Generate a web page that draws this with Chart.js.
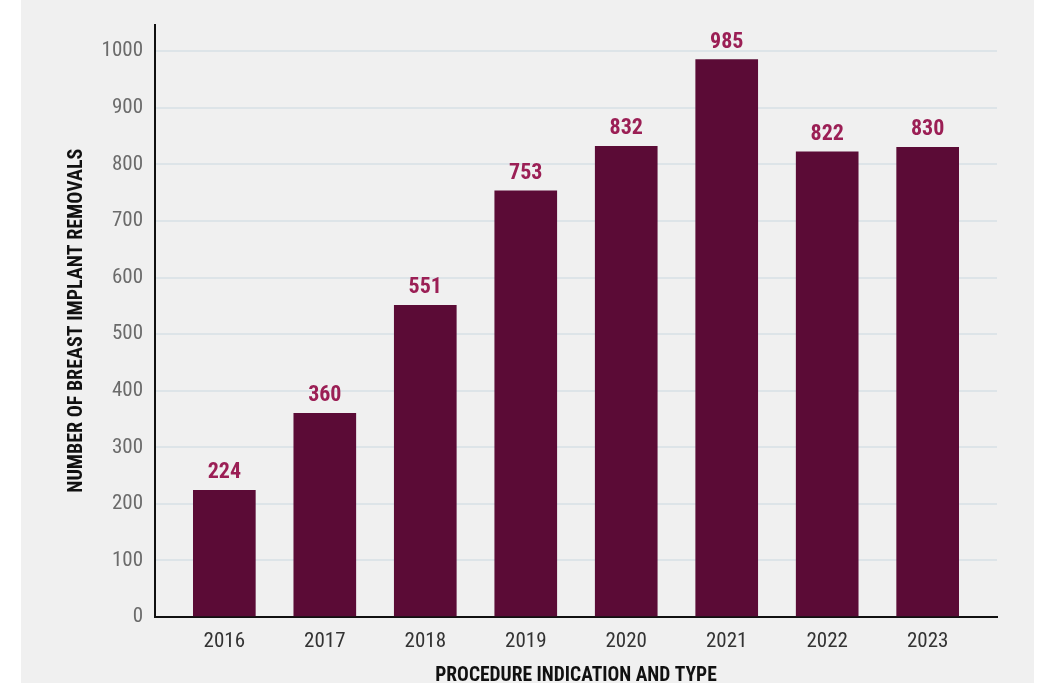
<!DOCTYPE html>
<html>
<head>
<meta charset="utf-8">
<script src="https://cdn.jsdelivr.net/npm/chart.js@4/dist/chart.umd.min.js"></script>
<style>
    html, body { margin: 0; padding: 0; background: #ffffff; }
    .panel { position: absolute; left: 21px; top: 0; width: 1013px; height: 683px; background: #f0f0f0; }
    canvas { display: block; }
</style>
</head>
<body>
<div class="panel">
    <canvas id="removalsChart" width="1013" height="683"></canvas>
</div>
<script>
const years = ['2016', '2017', '2018', '2019', '2020', '2021', '2022', '2023'];
const removals = [224, 360, 551, 753, 832, 985, 822, 830];
const yTicks = [0, 100, 200, 300, 400, 500, 600, 700, 800, 900, 1000];

const FONT = "'Roboto Condensed', 'DejaVu Sans Condensed', sans-serif";

// value labels above each bar
const barLabels = {
    id: 'barLabels',
    afterDatasetsDraw(chart) {
        const ctx = chart.ctx;
        const meta = chart.getDatasetMeta(0);
        ctx.save();
        ctx.font = 'bold 22px ' + FONT;
        ctx.fillStyle = '#9b1f55';
        ctx.textAlign = 'center';
        ctx.textBaseline = 'alphabetic';
        meta.data.forEach((bar, i) => {
            ctx.fillText(String(removals[i]), bar.x, bar.y - 12);
        });
        ctx.restore();
    }
};

const ctx = document.getElementById('removalsChart').getContext('2d');
new Chart(ctx, {
    type: 'bar',
    data: {
        datasets: [{
            data: removals.map((v, i) => ({ x: i, y: v })),
            backgroundColor: '#5b0b36',
            barThickness: 62
        }]
    },
    options: {
        responsive: false,
        animation: false,
        layout: { padding: { left: 0, top: 23, right: 37, bottom: 0 } },
        plugins: { legend: { display: false }, tooltip: { enabled: false } },
        scales: {
            x: {
                type: 'linear',
                offset: false,
                min: -0.69,
                max: 7.69,
                afterBuildTicks: (scale) => {
                    scale.ticks = years.map((y, i) => ({ value: i }));
                },
                afterFit: (scale) => { scale.height = 66; },
                grid: { display: false },
                border: { display: true, color: '#111111', width: 2 },
                ticks: {
                    callback: (v) => years[v],
                    color: '#333333',
                    padding: 4,
                    maxRotation: 0,
                    font: { family: FONT, size: 21 }
                },
                title: {
                    display: true,
                    text: 'PROCEDURE INDICATION AND TYPE',
                    color: '#111111',
                    padding: { top: 0, bottom: -3 },
                    font: { family: FONT, size: 19.5, weight: 'bold', lineHeight: 1 }
                }
            },
            y: {
                min: 0,
                max: 1047,
                afterBuildTicks: (scale) => {
                    scale.ticks = yTicks.map(v => ({ value: v }));
                },
                afterFit: (scale) => { scale.width = 134; },
                grid: { color: '#dde4e8', lineWidth: 2, drawTicks: false },
                border: { display: true, color: '#111111', width: 2 },
                ticks: {
                    callback: (v) => String(v),
                    color: '#6b6b6b',
                    padding: 12,
                    font: { family: FONT, size: 21 }
                },
                title: {
                    display: true,
                    text: 'NUMBER OF BREAST IMPLANT REMOVALS',
                    color: '#111111',
                    padding: { top: 46, bottom: 0 },
                    font: { family: FONT, size: 20, weight: 'bold', lineHeight: 1 }
                }
            }
        }
    },
    plugins: [barLabels]
});
</script>
</body>
</html>
